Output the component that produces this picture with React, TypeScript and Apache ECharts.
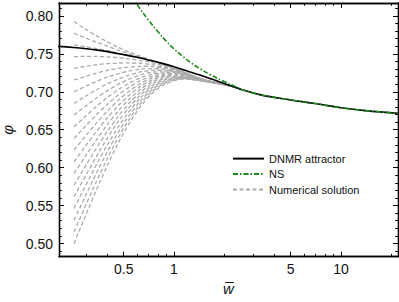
import React, { useEffect, useRef } from "react";
import * as echarts from "echarts";

// ---- data ----
const X_MIN_W = 0.2048;
const X_MAX_W = 21.94;
const Y_MIN = 0.4826;
const Y_MAX = 0.8171;

const X_MAJOR_TICKS = [0.5, 1, 5, 10];
const X_MINOR_TICKS = [0.3, 0.4, 0.6, 0.7, 0.8, 0.9, 2, 3, 4, 6, 7, 8, 9, 20];
const Y_MAJOR_TICKS = [0.5, 0.55, 0.6, 0.65, 0.7, 0.75, 0.8];
const Y_MINOR_TICKS = [
  0.49, 0.51, 0.52, 0.53, 0.54, 0.56, 0.57, 0.58, 0.59, 0.61, 0.62, 0.63, 0.64,
  0.66, 0.67, 0.68, 0.69, 0.71, 0.72, 0.73, 0.74, 0.76, 0.77, 0.78, 0.79, 0.81,
];

const DNMR_W = [0.2, 0.25, 0.3, 0.35, 0.4, 0.5, 0.6, 0.7, 0.85, 1.0, 1.2, 1.43, 1.7, 2.0, 2.5, 3.3, 5, 7, 10, 14, 22];
const DNMR_PHI = [0.76, 0.7585, 0.7568, 0.755, 0.753, 0.749, 0.7455, 0.742, 0.7375, 0.733, 0.7275, 0.7222, 0.7165, 0.711, 0.7035, 0.696, 0.6893, 0.6845, 0.679, 0.6752, 0.6718];

const NS_W = [0.56, 0.6, 0.7, 0.8, 0.9, 1.0, 1.13, 1.25, 1.43, 1.65, 2.0, 2.3, 2.6, 3.3, 5, 7, 10, 14, 22];
const NS_PHI = [0.827, 0.8155, 0.795, 0.7795, 0.7665, 0.7565, 0.7465, 0.739, 0.7305, 0.7225, 0.7135, 0.7075, 0.7022, 0.696, 0.6893, 0.6845, 0.679, 0.6752, 0.6718];

const NUM_W = [0.252, 0.28, 0.32, 0.37, 0.43, 0.5, 0.58, 0.68, 0.8, 0.95, 1.15, 1.4, 1.75, 2.2, 2.5];
const NUM_PHI: number[][] = [
  [0.5, 0.5245, 0.5551, 0.5873, 0.6182, 0.6459, 0.6693, 0.6895, 0.7041, 0.713, 0.7167, 0.7148, 0.7115, 0.7073, 0.7035],
  [0.5154, 0.5383, 0.5671, 0.5972, 0.6262, 0.652, 0.6738, 0.6927, 0.7062, 0.7142, 0.7173, 0.715, 0.7116, 0.7073, 0.7035],
  [0.5308, 0.5522, 0.5791, 0.6072, 0.6341, 0.6582, 0.6784, 0.6958, 0.7082, 0.7153, 0.7178, 0.7153, 0.7116, 0.7074, 0.7035],
  [0.5462, 0.5661, 0.591, 0.6171, 0.6421, 0.6643, 0.683, 0.699, 0.7102, 0.7165, 0.7184, 0.7155, 0.7117, 0.7074, 0.7035],
  [0.5616, 0.58, 0.603, 0.6271, 0.6501, 0.6705, 0.6876, 0.7022, 0.7122, 0.7177, 0.7189, 0.7157, 0.7117, 0.7074, 0.7035],
  [0.577, 0.5939, 0.615, 0.637, 0.658, 0.6766, 0.6921, 0.7053, 0.7142, 0.7188, 0.7195, 0.7159, 0.7118, 0.7074, 0.7035],
  [0.5924, 0.6077, 0.627, 0.647, 0.666, 0.6828, 0.6967, 0.7085, 0.7163, 0.72, 0.72, 0.7161, 0.7119, 0.7074, 0.7035],
  [0.6078, 0.6216, 0.6389, 0.6569, 0.6739, 0.6889, 0.7013, 0.7116, 0.7183, 0.7211, 0.7206, 0.7164, 0.7119, 0.7074, 0.7035],
  [0.6232, 0.6355, 0.6509, 0.6669, 0.6819, 0.6951, 0.7058, 0.7148, 0.7203, 0.7223, 0.7211, 0.7166, 0.712, 0.7075, 0.7035],
  [0.6386, 0.6494, 0.6629, 0.6768, 0.6899, 0.7012, 0.7104, 0.7179, 0.7223, 0.7235, 0.7217, 0.7168, 0.712, 0.7075, 0.7035],
  [0.654, 0.6633, 0.6748, 0.6868, 0.6978, 0.7073, 0.715, 0.7211, 0.7243, 0.7246, 0.7223, 0.717, 0.7121, 0.7075, 0.7035],
  [0.6694, 0.6772, 0.6868, 0.6967, 0.7058, 0.7135, 0.7196, 0.7243, 0.7263, 0.7258, 0.7228, 0.7172, 0.7122, 0.7075, 0.7035],
  [0.6848, 0.691, 0.6988, 0.7067, 0.7137, 0.7196, 0.7241, 0.7274, 0.7284, 0.727, 0.7234, 0.7175, 0.7122, 0.7075, 0.7035],
  [0.7002, 0.7049, 0.7108, 0.7166, 0.7217, 0.7258, 0.7287, 0.7306, 0.7304, 0.7281, 0.7239, 0.7177, 0.7123, 0.7075, 0.7035],
  [0.7156, 0.7188, 0.7227, 0.7266, 0.7297, 0.7319, 0.7333, 0.7337, 0.7324, 0.7293, 0.7245, 0.7179, 0.7123, 0.7075, 0.7035],
  [0.731, 0.7327, 0.7347, 0.7365, 0.7376, 0.7381, 0.7379, 0.7369, 0.7344, 0.7304, 0.725, 0.7181, 0.7124, 0.7075, 0.7035],
  [0.7464, 0.7466, 0.7467, 0.7464, 0.7456, 0.7442, 0.7424, 0.74, 0.7364, 0.7316, 0.7256, 0.7183, 0.7124, 0.7075, 0.7035],
  [0.7618, 0.7602, 0.7582, 0.7557, 0.7528, 0.7496, 0.7464, 0.7427, 0.7381, 0.7325, 0.726, 0.7185, 0.7125, 0.7075, 0.7035],
  [0.7772, 0.773, 0.768, 0.7628, 0.7575, 0.7526, 0.7481, 0.7436, 0.7385, 0.7327, 0.726, 0.7185, 0.7125, 0.7075, 0.7035],
  [0.7926, 0.7858, 0.7778, 0.7698, 0.7622, 0.7555, 0.7498, 0.7445, 0.7389, 0.7328, 0.7261, 0.7185, 0.7125, 0.7075, 0.7035],
];

const FONT = "'Liberation Sans', Arial, sans-serif";
const lg = (v: number) => Math.log10(v);
const pairs = (ws: number[], ys: number[]) => ws.map((w, i) => [lg(w), ys[i]]);

export default function App() {
  const ref = useRef<HTMLDivElement>(null);
  useEffect(() => {
    if (!ref.current) return;
    const chart = echarts.init(ref.current, undefined, { renderer: "svg" });
    const axisLine = { show: true, onZero: false, lineStyle: { color: "#000", width: 1.3 } };
    const xBase: any = {
      type: "value",
      min: lg(X_MIN_W),
      max: lg(X_MAX_W),
      splitLine: { show: false },
      axisLine,
    };
    const yBase: any = {
      type: "value",
      min: Y_MIN,
      max: Y_MAX,
      splitLine: { show: false },
      axisLine,
    };
    const majX = X_MAJOR_TICKS.map(lg);
    const minX = X_MINOR_TICKS.map(lg);
    const tick = (vals: number[], len: number) => ({
      show: true,
      inside: true,
      length: len,
      customValues: vals,
      lineStyle: { color: "#000", width: 1 },
    });
    const noLabel = { show: false };

    const series: any[] = [];
    NUM_PHI.forEach((ys) => {
      series.push({
        type: "line",
        name: "Numerical solution",
        data: pairs(NUM_W, ys),
        showSymbol: false,
        symbol: "none",
        smooth: 0.4,
        clip: true,
        lineStyle: { color: "#ababab", width: 1.3, type: [4, 2.5] },
        itemStyle: { color: "#ababab" },
      });
    });
    series.push({
      type: "line",
      name: "DNMR attractor",
      data: pairs(DNMR_W, DNMR_PHI),
      showSymbol: false,
      symbol: "none",
      smooth: 0.4,
      clip: true,
      lineStyle: { color: "#000", width: 1.6, type: "solid" },
      itemStyle: { color: "#000" },
    });
    series.push({
      type: "line",
      name: "NS",
      data: pairs(NS_W, NS_PHI),
      showSymbol: false,
      symbol: "none",
      smooth: 0.4,
      clip: true,
      lineStyle: { color: "#1a8a1a", width: 1.6, type: [5, 2, 1.5, 2] },
      itemStyle: { color: "#1a8a1a" },
    });

    chart.setOption({
      animation: false,
      backgroundColor: "#fff",
      grid: { left: 59, right: 1, top: 3, bottom: 45.3, containLabel: false, outerBoundsMode: "none" },
      legend: {
        orient: "vertical",
        left: 232,
        top: 153,
        padding: 0,
        itemWidth: 31,
        itemHeight: 14,
        itemGap: 4.3,
        selectedMode: false,
        itemStyle: { opacity: 0 },
        data: ["DNMR attractor", "NS", "Numerical solution"],
        textStyle: { fontFamily: FONT, fontSize: 11, color: "#111" },
      },
      xAxis: [
        {
          ...xBase,
          position: "bottom",
          axisTick: tick(majX, 5),
          axisLabel: {
            show: true,
            customValues: majX,
            margin: 5,
            fontFamily: FONT,
            fontSize: 14,
            color: "#111",
            formatter: (v: number) => String(Math.round(Math.pow(10, v) * 10) / 10),
          },
          name: "w\u0305",
          nameLocation: "middle",
          nameGap: 17,
          nameTextStyle: { fontFamily: FONT, fontSize: 15, fontStyle: "italic", color: "#111" },
        },
        { ...xBase, position: "bottom", axisTick: tick(minX, 2.8), axisLabel: noLabel },
        { ...xBase, position: "top", axisTick: tick(majX, 5), axisLabel: noLabel },
        { ...xBase, position: "top", axisTick: tick(minX, 2.8), axisLabel: noLabel },
      ],
      yAxis: [
        {
          ...yBase,
          position: "left",
          axisTick: tick(Y_MAJOR_TICKS, 5),
          axisLabel: {
            show: true,
            customValues: Y_MAJOR_TICKS,
            margin: 6,
            fontFamily: FONT,
            fontSize: 14,
            color: "#111",
            formatter: (v: number) => v.toFixed(2),
          },
          name: "\u03c6",
          nameLocation: "middle",
          nameRotate: 90,
          nameGap: 42,
          nameTextStyle: { fontFamily: FONT, fontSize: 15, fontStyle: "italic", color: "#111" },
        },
        { ...yBase, position: "left", axisTick: tick(Y_MINOR_TICKS, 2.8), axisLabel: noLabel },
        { ...yBase, position: "right", axisTick: tick(Y_MAJOR_TICKS, 5), axisLabel: noLabel },
        { ...yBase, position: "right", axisTick: tick(Y_MINOR_TICKS, 2.8), axisLabel: noLabel },
      ],
      series,
    });
    return () => chart.dispose();
  }, []);
  return (
    <div
      ref={ref}
      style={{ position: "absolute", left: 0, top: 0, width: 399, height: 302, background: "#fff" }}
    />
  );
}
